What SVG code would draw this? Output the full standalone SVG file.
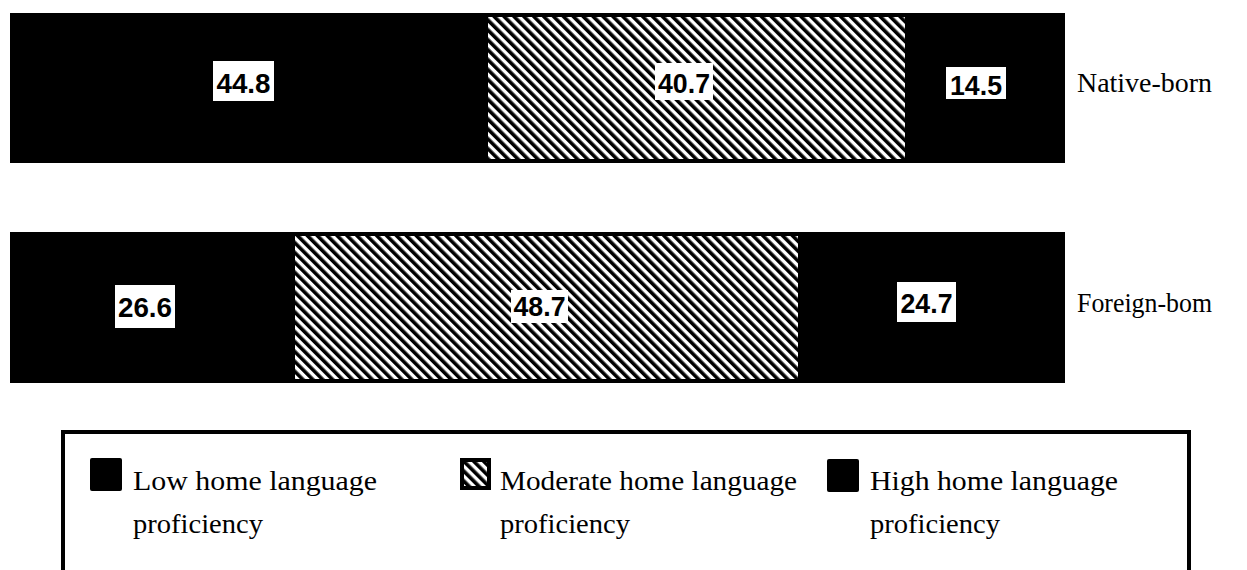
<svg xmlns="http://www.w3.org/2000/svg" width="1247" height="570" viewBox="0 0 1247 570">
<style>
.bar{fill:#000}
.hatch{fill:url(#diag)}
.lbl{fill:#fff}
.num{font-family:"Liberation Sans",sans-serif;font-weight:bold;font-size:28px;fill:#000;text-anchor:middle}
.cat{font-family:"Liberation Serif",serif;font-size:28px;fill:#000}
.leg{font-family:"Liberation Serif",serif;font-size:28px;fill:#000}
</style>
<defs>
<pattern id="diag" patternUnits="userSpaceOnUse" width="7" height="7" patternTransform="rotate(-45)">
<rect width="7" height="7" fill="#fff"/>
<rect width="3.6" height="7" fill="#000"/>
</pattern>
</defs>
<rect width="1247" height="570" fill="#fff"/>
<g id="native-born">
<rect class="bar" x="10" y="13" width="1055" height="150"/>
<rect class="hatch" x="488" y="17" width="417" height="142"/>
<rect class="lbl" x="213" y="61" width="61" height="40"/>
<text class="num" x="243.5" y="93" textLength="54" lengthAdjust="spacingAndGlyphs">44.8</text>
<rect class="lbl" x="655" y="63" width="58" height="37"/>
<text class="num" x="684" y="93" textLength="52" lengthAdjust="spacingAndGlyphs">40.7</text>
<rect class="lbl" x="946" y="67" width="60" height="32"/>
<text class="num" x="976" y="95" textLength="52" lengthAdjust="spacingAndGlyphs">14.5</text>
<text class="cat" x="1077" y="92" textLength="135" lengthAdjust="spacingAndGlyphs">Native-born</text>
</g>
<g id="foreign-born">
<rect class="bar" x="10" y="232" width="1055" height="151"/>
<rect class="hatch" x="295" y="236" width="503" height="143"/>
<rect class="lbl" x="115" y="285" width="60" height="43"/>
<text class="num" x="145" y="317" textLength="54" lengthAdjust="spacingAndGlyphs">26.6</text>
<rect class="lbl" x="511" y="290" width="57" height="33"/>
<text class="num" x="539.5" y="316" textLength="52" lengthAdjust="spacingAndGlyphs">48.7</text>
<rect class="lbl" x="897" y="282" width="59" height="40"/>
<text class="num" x="926.5" y="313" textLength="52" lengthAdjust="spacingAndGlyphs">24.7</text>
<text class="cat" x="1077" y="312" textLength="135" lengthAdjust="spacingAndGlyphs">Foreign-bom</text>
</g>
<g id="legend">
<rect x="63" y="432" width="1126" height="160" fill="none" stroke="#000" stroke-width="4"/>
<rect x="90" y="458" width="32" height="33" rx="2" fill="#000"/>
<text class="leg" x="133" y="490" textLength="244" lengthAdjust="spacingAndGlyphs">Low home language</text>
<text class="leg" x="133" y="533" textLength="130" lengthAdjust="spacingAndGlyphs">proficiency</text>
<rect x="462" y="460" width="27" height="28" fill="url(#diag)" stroke="#000" stroke-width="4"/>
<text class="leg" x="500" y="490" textLength="297" lengthAdjust="spacingAndGlyphs">Moderate home language</text>
<text class="leg" x="500" y="533" textLength="130" lengthAdjust="spacingAndGlyphs">proficiency</text>
<rect x="827" y="459" width="32" height="33" rx="2" fill="#000"/>
<text class="leg" x="870" y="490" textLength="248" lengthAdjust="spacingAndGlyphs">High home language</text>
<text class="leg" x="870" y="533" textLength="130" lengthAdjust="spacingAndGlyphs">proficiency</text>
</g>
<g id="connectors"/>
</svg>
